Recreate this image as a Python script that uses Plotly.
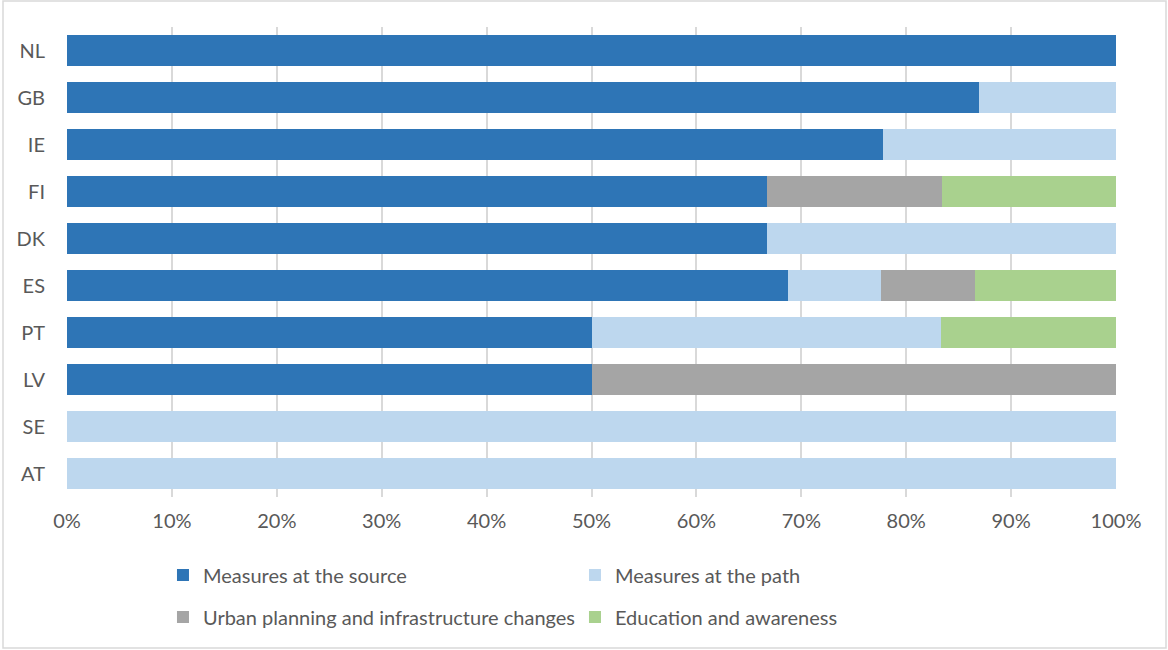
import plotly.graph_objects as go

# Countries, listed top to bottom
countries = ["NL", "GB", "IE", "FI", "DK", "ES", "PT", "LV", "SE", "AT"]

# Share of measures per category (%)
source = [100.0, 86.9, 77.8, 66.7, 66.7, 68.7, 50.0, 50.0, 0.0, 0.0]
path = [0.0, 13.1, 22.2, 0.0, 33.3, 8.9, 33.3, 0.0, 100.0, 100.0]
urban = [0.0, 0.0, 0.0, 16.7, 0.0, 9.0, 0.0, 50.0, 0.0, 0.0]
education = [0.0, 0.0, 0.0, 16.6, 0.0, 13.4, 16.7, 0.0, 0.0, 0.0]

series = [
    ("Measures at the source", source, "#2E75B6", "legend"),
    ("Measures at the path", path, "#BDD7EE", "legend"),
    ("Urban planning and infrastructure changes", urban, "#A5A5A5", "legend2"),
    ("Education and awareness", education, "#A9D18E", "legend2"),
]

FONT = "Lato, 'Open Sans', sans-serif"
GREY = "#595959"
FS = 20

fig = go.Figure()
for name, vals, color, lg in series:
    fig.add_trace(go.Bar(
        y=countries, x=vals, name=name, orientation="h",
        marker=dict(color=color, line=dict(width=0)),
        legend=lg,
    ))

legend_common = dict(
    orientation="h", xanchor="left", yanchor="middle",
    font=dict(family=FONT, size=FS, color=GREY),
    entrywidth=367, entrywidthmode="pixels",
    bgcolor="rgba(0,0,0,0)", traceorder="normal",
    itemclick=False, itemdoubleclick=False,
)

fig.update_layout(
    width=1168, height=650,
    margin=dict(l=67, r=52, t=27, b=153),
    paper_bgcolor="white", plot_bgcolor="white",
    barmode="stack", bargap=0.32,
    font=dict(family=FONT, size=FS, color=GREY),
    xaxis=dict(
        range=[0, 100], dtick=10, ticksuffix="%",
        showgrid=True, gridcolor="#D9D9D9", gridwidth=1.5,
        zeroline=False, showline=False, ticks="",
        ticklabelstandoff=10,
        tickfont=dict(family=FONT, size=FS, color=GREY),
        fixedrange=True,
    ),
    yaxis=dict(
        categoryorder="array", categoryarray=countries[::-1],
        showgrid=False, zeroline=False, showline=False, ticks="",
        ticklabelstandoff=21,
        tickfont=dict(family=FONT, size=FS, color=GREY),
        fixedrange=True,
    ),
    legend=dict(x=0.0915, y=(497 - 575) / 470, **legend_common),
    legend2=dict(x=0.0915, y=(497 - 617) / 470, **legend_common),
    shapes=[dict(
        type="rect", xref="paper", yref="paper",
        x0=(3 - 67) / 1049, x1=(1166 - 67) / 1049,
        y0=(497 - 648) / 470, y1=(497 - 1) / 470,
        line=dict(color="#D9D9D9", width=1.5), layer="below",
    )],
)

fig.write_html("out.html")
